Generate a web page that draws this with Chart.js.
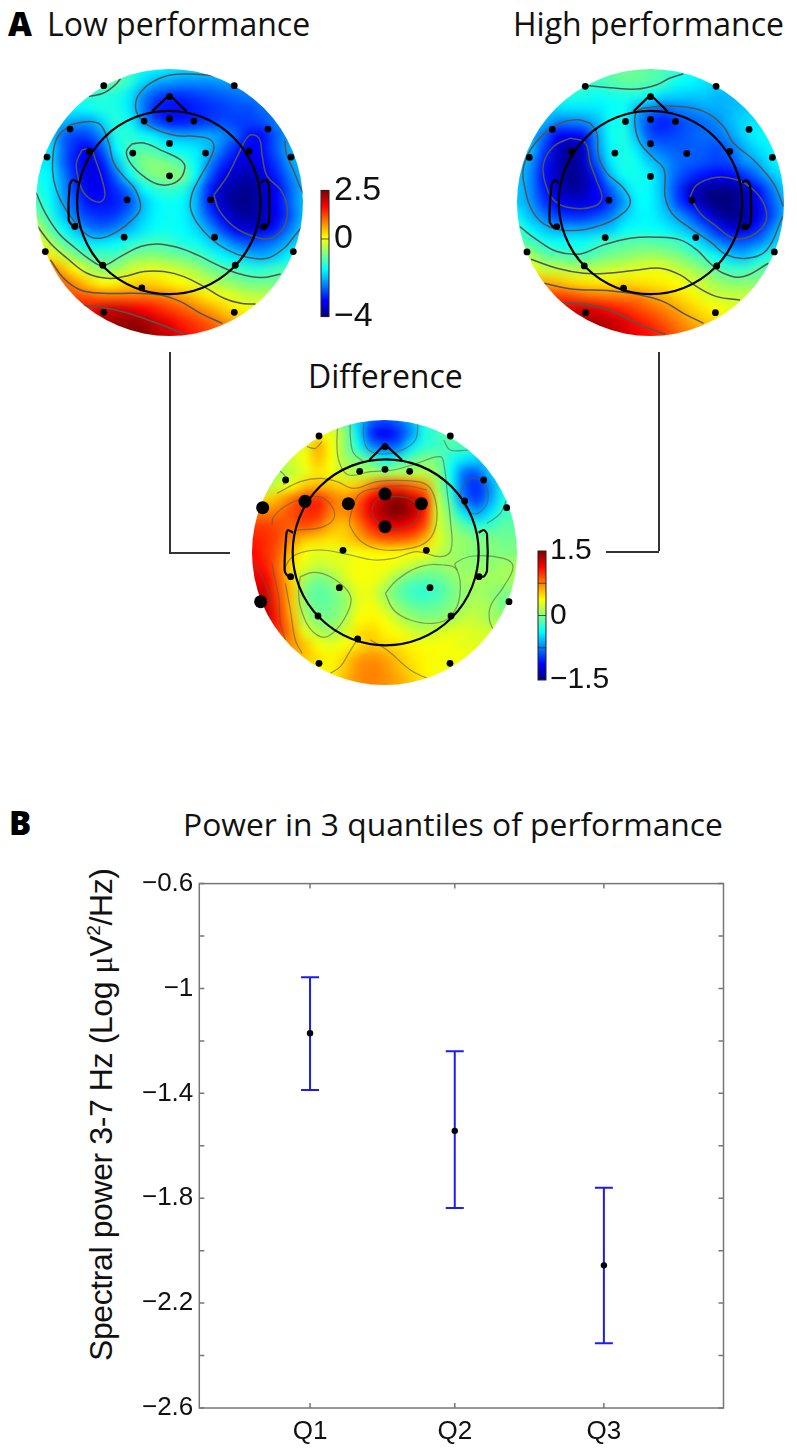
<!DOCTYPE html>
<html>
<head>
<meta charset="utf-8">
<script src="https://cdn.jsdelivr.net/npm/chart.js@4"></script>
<style>
  html, body { margin: 0; background: #fff; }
  #page { position: relative; width: 797px; height: 1450px; overflow: hidden; }
  canvas { position: absolute; }
  .t { position: absolute; white-space: nowrap; line-height: 1; color: #111; font-family: "Open Sans", sans-serif; font-size: 32px; }
  .letter { font-weight: 800; color: #000; font-size: 33px; }
  .rule { position: absolute; background: #333; }
  #ylabel { font-family: "Liberation Sans", sans-serif; font-size: 32px; letter-spacing: -0.4px; transform-origin: 0 0; transform: rotate(-90deg); left: 85px; top: 1361px; }
  #ylabel sup { font-size: 19px; line-height: 0; }
  #ylabel i { font-family: "Liberation Serif", serif; font-style: normal; }
</style>
</head>
<body>
<div id="page">
  <span class="t letter" style="left:8px;top:7px">A</span>
  <span class="t" style="left:47px;top:8px">Low performance</span>
  <span class="t" style="left:513px;top:8px">High performance</span>
  <span class="t" style="left:308px;top:360px">Difference</span>
  <span class="t letter" style="left:9px;top:806px">B</span>
  <span class="t" style="left:183px;top:808px;font-size:31.8px">Power in 3 quantiles of performance</span>
  <span class="t" id="ylabel">Spectral power 3-7 Hz (Log <i>μ</i>V<sup>2</sup>/Hz)</span>

  <div class="rule" style="left:169px;top:352px;width:1.5px;height:200px"></div>
  <div class="rule" style="left:169px;top:552px;width:61px;height:1.5px"></div>
  <div class="rule" style="left:658px;top:352px;width:1.5px;height:199px"></div>
  <div class="rule" style="left:606px;top:551px;width:53px;height:1.5px"></div>

  <canvas id="lowMap"></canvas>
  <canvas id="highMap"></canvas>
  <canvas id="diffMap"></canvas>
  <canvas id="lowBar"></canvas>
  <canvas id="diffBar"></canvas>
  <canvas id="quantiles"></canvas>
</div>

<script>
// panel B
const quantileLabels = ['Q1', 'Q2', 'Q3']
const quantileX = [1, 1.98, 2.99]
const quantileMean = [-1.171, -1.543, -2.056]
const quantileLow = [-1.387, -1.837, -2.353]
const quantileHigh = [-0.957, -1.239, -1.76]
const yTickVals = [-0.6, -1, -1.4, -1.8, -2.2, -2.6]
const yMinorVals = [-0.8, -1.2, -1.6, -2, -2.4]

// scalp maps: rows top to bottom, 21 x 21 nodes across the disc
const lowGrid = [
  [-1.2,-1.2,-1.2,-1.2,-1.2,-1.1,-1.1,-1.2,-1.5,-1.6,-1.7,-1.8,-1.8,-1.8,-1.8,-1.8,-1.8,-1.8,-1.8,-1.8,-1.8],
  [-1.2,-1.2,-1.2,-1.2,-1.2,-1.1,-1,-1.3,-1.8,-2.1,-2.2,-2.3,-2.3,-2.3,-2.2,-2.2,-2.2,-2.2,-2.2,-2.2,-2.2],
  [-1.4,-1.4,-1.4,-1.4,-1.3,-1.3,-1.4,-1.7,-2.3,-2.7,-2.9,-2.9,-2.8,-2.7,-2.6,-2.5,-2.4,-2.4,-2.4,-2.4,-2.4],
  [-1.6,-1.6,-1.6,-1.6,-1.5,-1.4,-1.4,-1.7,-2.4,-3,-3.1,-3.1,-3,-2.9,-2.8,-2.7,-2.7,-2.5,-2.5,-2.4,-2.4],
  [-1.8,-1.8,-2,-2.2,-2.2,-1.8,-1.3,-1.5,-2.2,-2.7,-3,-3,-2.9,-2.8,-2.7,-2.8,-2.8,-2.7,-2.4,-2.2,-2.2],
  [-1.8,-1.8,-2.5,-2.8,-2.7,-2.2,-1.4,-1.3,-1.5,-1.7,-2,-2.1,-2.1,-2.1,-2.3,-2.6,-3.1,-3.1,-2.6,-2.2,-2.2],
  [-1.7,-1.7,-2.5,-3,-3.2,-2.6,-1.6,-1.2,-1,-1.2,-1.5,-1.6,-1.7,-2,-2.5,-3,-3.3,-3.1,-2.6,-2.1,-2],
  [-1.7,-1.7,-2.5,-3.1,-3.4,-3,-2,-1.2,-0.8,-0.7,-0.85,-1.1,-1.6,-2.3,-2.9,-3.3,-3.5,-3.2,-2.8,-2.2,-2],
  [-1.5,-1.6,-2.3,-3,-3.4,-3.2,-2.5,-1.6,-1,-0.75,-0.7,-0.8,-1.6,-2.6,-3.3,-3.6,-3.7,-3.4,-3,-2.4,-2],
  [-1.3,-1.6,-2.2,-2.9,-3.3,-3.2,-2.9,-2.4,-1.6,-1.3,-1.2,-1.35,-2,-3,-3.6,-3.8,-3.9,-3.6,-3.2,-2.6,-2],
  [-1.1,-1.5,-2.1,-2.7,-3.1,-3.1,-3,-2.7,-2,-1.6,-1.5,-1.6,-2.1,-3,-3.6,-3.9,-3.9,-3.6,-3.2,-2.6,-2],
  [-0.8,-1.3,-1.9,-2.5,-2.8,-2.9,-2.8,-2.4,-1.9,-1.6,-1.5,-1.6,-2,-2.7,-3.3,-3.7,-3.8,-3.6,-3.3,-2.7,-2],
  [-0.3,-0.95,-1.5,-2,-2.4,-2.5,-2.3,-2,-1.7,-1.5,-1.5,-1.55,-1.8,-2.2,-2.8,-3.3,-3.5,-3.4,-3,-2.4,-1.9],
  [0,-0.4,-1,-1.4,-1.7,-1.7,-1.6,-1.4,-1.2,-1.15,-1.2,-1.4,-1.5,-1.8,-2.1,-2.5,-2.7,-2.6,-2.4,-2,-1.8],
  [0.4,0.2,-0.3,-0.75,-1.05,-1.1,-1.1,-0.8,-0.7,-0.7,-0.8,-0.9,-1.05,-1.3,-1.6,-1.8,-2,-2.1,-1.9,-1.6,-1.6],
  [0.9,0.9,0.5,0.05,-0.4,-0.7,-0.55,-0.3,-0.15,-0.1,-0.2,-0.35,-0.55,-0.8,-1,-1.15,-1.3,-1.3,-1.15,-1.1,-1.1],
  [1.1,1.1,1.1,0.7,0.3,0.05,0.1,0.3,0.35,0.3,0.15,0.05,-0.15,-0.35,-0.55,-0.7,-0.85,-0.85,-0.85,-0.85,-0.85],
  [1.2,1.2,1.2,1.2,1.1,0.95,0.95,0.95,0.95,0.9,0.8,0.6,0.35,0.15,-0.05,-0.2,-0.35,-0.35,-0.35,-0.35,-0.35],
  [1.6,1.6,1.6,1.6,1.6,1.95,2,1.9,1.7,1.5,1.3,1.1,0.9,0.65,0.4,0.15,0,0,0,0,0],
  [2,2,2,2,2,2.2,2.3,2.4,2.3,2,1.8,1.5,1.3,1.1,0.85,0.6,0.4,0.4,0.4,0.4,0.4],
  [2,2,2,2,2,2.2,2.3,2.4,2.4,2.2,2,1.7,1.5,1.3,1.1,0.85,0.6,0.6,0.6,0.6,0.6]
]
const highGrid = [
  [-1.2,-1.2,-1.2,-1.2,-1.2,-1.2,-1.1,-1,-0.9,-0.9,-1,-1.1,-1.3,-1.5,-1.6,-1.7,-1.7,-1.7,-1.7,-1.7,-1.7],
  [-1.2,-1.2,-1.2,-1.2,-1.2,-1.2,-1.2,-1.05,-0.95,-0.95,-1.05,-1.2,-1.5,-1.6,-1.7,-1.8,-1.8,-1.8,-1.8,-1.8,-1.8],
  [-1.4,-1.4,-1.4,-1.4,-1.4,-1.4,-1.5,-1.45,-1.4,-1.4,-1.5,-1.8,-1.85,-1.9,-1.9,-2,-2,-2,-2,-2,-2],
  [-1.8,-1.8,-1.8,-1.8,-1.75,-1.75,-1.7,-1.55,-1.5,-2,-2.4,-2.6,-2.4,-2.3,-2.15,-2.1,-2,-1.9,-1.9,-1.9,-1.9],
  [-1.9,-1.9,-2,-2.4,-2.4,-2.3,-2,-1.5,-1.45,-2.2,-2.8,-3,-2.8,-2.6,-2.5,-2.3,-2,-1.8,-1.7,-1.7,-1.7],
  [-2,-2,-2.5,-3.2,-3.2,-3.1,-2.2,-1.5,-1.4,-2,-2.7,-2.8,-2.7,-2.6,-2.5,-2.5,-2.2,-1.85,-1.6,-1.6,-1.6],
  [-1.9,-1.9,-2.8,-3.5,-3.9,-3.5,-2.3,-1.6,-1.4,-1.7,-2.3,-2.5,-2.6,-2.6,-2.6,-2.7,-2.5,-2.1,-1.8,-1.6,-1.6],
  [-1.9,-2.2,-3,-3.6,-3.9,-3.6,-2.6,-1.7,-1.4,-1.5,-1.9,-2.2,-2.5,-2.6,-2.7,-2.8,-2.7,-2.3,-2.1,-1.7,-1.6],
  [-1.9,-2.3,-3.1,-3.6,-3.9,-3.7,-3,-2,-1.5,-1.45,-1.6,-2.1,-2.6,-2.9,-3.1,-3.2,-3.2,-2.9,-2.5,-2,-1.7],
  [-1.9,-2.3,-3,-3.5,-3.8,-3.7,-3.2,-2.6,-1.9,-1.5,-1.6,-2.1,-2.8,-3.5,-3.8,-3.9,-3.9,-3.6,-3.1,-2.5,-1.9],
  [-1.9,-2.2,-2.8,-3.2,-3.4,-3.4,-3.2,-2.8,-2.2,-1.6,-1.6,-2,-2.7,-3.2,-3.8,-4,-4,-3.7,-3.3,-2.7,-2.1],
  [-1.6,-2,-2.4,-2.8,-2.9,-2.9,-2.7,-2.4,-1.9,-1.65,-1.6,-1.85,-2.2,-2.6,-3.1,-3.7,-3.9,-3.8,-3.4,-2.8,-2.1],
  [-1.1,-1.6,-1.9,-2.1,-2.1,-2.1,-2,-1.9,-1.6,-1.5,-1.5,-1.6,-1.8,-2.1,-2.5,-3,-3.4,-3.4,-3,-2.4,-1.8],
  [-0.9,-1.1,-1.4,-1.5,-1.5,-1.5,-1.3,-1.15,-1.05,-1,-1,-1.05,-1.15,-1.5,-1.9,-2.3,-2.6,-2.6,-2.4,-2,-1.8],
  [-0.5,-0.5,-0.85,-1,-1.1,-1.15,-0.95,-0.8,-0.7,-0.6,-0.55,-0.6,-0.75,-0.95,-1.25,-1.6,-1.9,-2,-1.7,-1.3,-1.3],
  [0.1,0.1,-0.3,-0.3,-0.4,-0.4,-0.35,-0.25,-0.2,-0.12,-0.05,-0.1,-0.3,-0.5,-0.7,-1,-1.2,-1.2,-1,-1,-1],
  [0.6,0.6,0.6,0.5,0.35,0.25,0.2,0.2,0.3,0.25,0.2,0.15,0.05,-0.15,-0.35,-0.55,-0.7,-0.7,-0.7,-0.7,-0.7],
  [1.3,1.3,1.3,1.3,1.2,1.05,0.95,0.9,0.85,0.85,0.65,0.5,0.3,0.15,-0.1,-0.25,-0.3,-0.3,-0.3,-0.3,-0.3],
  [1.9,1.9,1.9,1.9,1.9,2,1.85,1.6,1.45,1.25,1.05,0.85,0.65,0.4,0.2,0.05,-0.1,-0.1,-0.1,-0.1,-0.1],
  [2.2,2.2,2.2,2.2,2.2,2.2,2.2,2.1,1.9,1.6,1.4,1.15,0.9,0.65,0.45,0.3,0.2,0.2,0.2,0.2,0.2],
  [2.2,2.2,2.2,2.2,2.2,2.2,2.2,2.1,1.9,1.8,1.6,1.4,1.1,0.9,0.7,0.5,0.4,0.4,0.4,0.4,0.4]
]
const diffGrid = [
  [0.3,0.3,0.3,0.3,0.3,0.3,0.1,-0.1,-0.5,-0.8,-0.9,-0.8,-0.6,-0.3,-0.2,-0.1,-0.1,-0.1,-0.1,-0.1,-0.1],
  [0.3,0.3,0.3,0.3,0.3,0.35,0.3,0.05,-0.45,-1,-1.15,-1,-0.7,-0.3,-0.2,-0.1,-0.1,-0.1,-0.1,-0.1,-0.1],
  [0.3,0.3,0.3,0.3,0.3,0.6,0.35,0.05,-0.3,-0.7,-0.85,-0.8,-0.45,-0.25,-0.2,-0.15,-0.2,-0.2,-0.2,-0.2,-0.2],
  [0.2,0.2,0.2,0.25,0.35,0.55,0.35,0.1,0,-0.15,-0.35,-0.25,-0.1,0,-0.05,-0.3,-0.45,-0.5,-0.5,-0.5,-0.5],
  [0.1,0.1,0.1,0.2,0.3,0.45,0.35,0.2,0.15,0.15,0.1,0.15,0.15,0.15,0.05,-0.35,-0.8,-0.85,-0.5,-0.5,-0.5],
  [0.1,0.1,0.25,0.35,0.55,0.6,0.55,0.5,0.55,0.75,0.95,0.95,0.85,0.7,0.1,-0.3,-0.85,-1,-0.7,-0.3,-0.3],
  [0.5,0.5,0.6,0.8,0.95,1,0.8,0.7,0.85,1.15,1.35,1.45,1.3,1.05,0.2,-0.2,-0.75,-0.95,-0.65,-0.3,-0.3],
  [0.75,0.75,0.8,0.9,1,1,0.75,0.7,0.9,1.2,1.4,1.5,1.35,1.05,0.25,-0.05,-0.45,-0.65,-0.45,-0.2,-0.2],
  [0.95,0.95,0.9,0.85,0.9,0.8,0.6,0.55,0.75,1,1.2,1.2,1.1,0.9,0.25,0.05,-0.1,-0.25,-0.2,-0.1,-0.1],
  [1.05,1,0.9,0.7,0.55,0.5,0.45,0.5,0.6,0.75,0.85,0.85,0.8,0.6,0.3,0.1,0.05,0,0,-0.05,-0.05],
  [1.1,1,0.85,0.55,0.35,0.3,0.3,0.3,0.35,0.4,0.4,0.4,0.35,0.35,0.2,0.1,0.05,0,0,0,0],
  [1.1,1.05,0.8,0.45,0.3,0.2,0.25,0.3,0.35,0.35,0.35,0.3,0.2,0.1,0.05,0.1,0.05,0.05,0.05,0.1,0.1],
  [1.2,1.15,0.85,0.5,0.1,-0.02,0.05,0.25,0.35,0.35,0.25,0.05,-0.08,-0.12,-0.08,0,0.1,0.1,0.1,0.1,0.1],
  [1.3,1.25,0.9,0.55,0,-0.12,-0.05,0.08,0.3,0.3,0.1,-0.08,-0.2,-0.25,-0.18,-0.05,0.05,0.1,0.05,0,0],
  [1.3,1.3,0.95,0.55,0.05,-0.08,-0.05,0.05,0.3,0.35,0.2,0.03,-0.08,-0.12,-0.08,0,0.1,0.15,0.1,-0.05,-0.05],
  [1.3,1.3,1,0.6,0.15,0,0,0.12,0.35,0.4,0.35,0.2,0.08,0.03,0.03,0.1,0.2,0.2,0.1,0.1,0.1],
  [1,1,1,0.7,0.3,0.15,0.1,0.25,0.45,0.5,0.4,0.35,0.25,0.2,0.25,0.3,0.3,0.25,0.25,0.25,0.25],
  [0.7,0.7,0.7,0.7,0.55,0.35,0.3,0.35,0.45,0.55,0.5,0.45,0.4,0.35,0.35,0.35,0.3,0.3,0.3,0.3,0.3],
  [0.55,0.55,0.55,0.55,0.55,0.45,0.4,0.5,0.65,0.7,0.65,0.55,0.45,0.4,0.35,0.35,0.35,0.35,0.35,0.35,0.35],
  [0.4,0.4,0.4,0.4,0.4,0.4,0.4,0.55,0.7,0.75,0.7,0.6,0.5,0.4,0.35,0.35,0.35,0.35,0.35,0.35,0.35],
  [0.4,0.4,0.4,0.4,0.4,0.4,0.45,0.6,0.7,0.75,0.7,0.65,0.55,0.45,0.4,0.35,0.35,0.35,0.35,0.35,0.35]
]

// electrode sites, digitised per map
const lowSites = [[310,258],[701,258],[507,291],[507,357],[431,364],[580,364],[209,388],[802,388],[507,431],[140,472],[871,472],[267,455],[397,460],[615,460],[745,455],[507,528],[380,600],[630,600],[223,680],[790,680],[371,712],[642,712],[135,755],[878,755],[307,796],[704,796],[424,864],[310,937],[701,937]]
const highSites = [[285,260],[678,260],[481,291],[481,359],[406,365],[556,365],[186,389],[777,389],[481,432],[117,473],[847,473],[244,455],[374,460],[590,461],[719,455],[481,530],[356,601],[606,601],[199,680],[765,680],[345,713],[617,713],[110,756],[853,756],[282,798],[680,798],[400,865],[286,938],[676,938]]
const diffSites = [[296,78],[690,78],[494,110],[494,178],[418,184],[568,184],[196,210],[790,210],[859,293],[733,273],[368,421],[618,421],[211,500],[776,500],[357,533],[629,533],[866,575],[293,618],[692,618],[412,687],[296,760],[689,760]]
const diffBigSites = [[494,252],[127,293],[254,274],[384,281],[603,281],[494,350],[121,575]]

// contour lines
const lowContours = [
  [[650,230],[620,226],[560,223],[500,228],[450,250],[415,285],[405,320],[415,350],[440,375],[480,395],[530,408],[590,410],[630,420],[640,445],[625,485],[600,530],[575,580],[570,625],[590,670],[630,715],[680,750],[740,772],[800,775],[850,745],[880,710],[905,680]],
  [[852,422],[858,465],[878,510],[903,572],[915,590]],
  [[640,585],[680,530],[715,460],[745,408],[775,415],[785,470],[800,530],[840,570],[860,625],[850,680],[810,715],[760,710],[700,680],[655,630],[640,585]],
  [[210,375],[170,415],[157,480],[160,540],[180,600],[215,655],[260,705],[300,715],[350,695],[395,660],[420,625],[405,570],[370,530],[340,490],[325,430],[300,375],[265,365],[210,375]],
  [[245,450],[228,490],[235,540],[255,585],[295,607],[313,590],[305,540],[285,480],[272,450],[245,450]],
  [[395,432],[378,455],[390,490],[430,530],[480,555],[530,545],[553,505],[540,480],[490,455],[430,430],[395,432]],
  [[265,290],[310,280],[345,255],[360,237]],
  [[107,578],[135,640],[175,700],[225,745],[270,780],[307,797],[360,770],[420,740],[470,732],[530,742],[590,765],[650,795],[710,820],[780,833],[840,822]],
  [[112,680],[150,730],[200,775],[260,820],[320,835],[370,830],[430,815],[490,815],[550,830],[610,860],[670,895],[720,910],[765,912]],
  [[150,780],[190,835],[240,870],[310,880],[400,880],[480,885],[540,905],[600,940],[665,970]],
  [[240,915],[320,925],[400,945],[470,970],[555,1003]]
]
const highContours = [
  [[295,258],[360,264],[440,268],[500,255],[540,235],[580,222]],
  [[300,370],[260,360],[200,375],[135,430],[100,500],[105,570],[130,640],[175,680],[250,692],[320,680],[385,650],[420,610],[400,565],[350,520],[325,470],[320,400],[300,370]],
  [[240,415],[190,440],[160,490],[165,550],[195,605],[250,625],[310,620],[335,595],[320,545],[300,490],[285,430],[240,415]],
  [[880,620],[850,550],[790,480],[730,430],[700,380],[640,335],[560,320],[480,323],[440,335],[435,380],[450,430],[490,475],[522,510],[525,590],[545,640],[600,685],[660,725],[710,765],[770,775],[830,750],[878,650]],
  [[600,590],[620,555],[680,532],[740,540],[790,570],[825,620],[825,670],[780,710],[730,715],[680,680],[630,640],[600,590]],
  [[88,680],[140,720],[200,755],[270,762],[340,735],[420,715],[500,712],[570,720],[620,750],[660,790],[700,820],[760,830],[835,790]],
  [[122,778],[200,805],[280,820],[350,820],[430,812],[510,805],[570,825],[620,860],[680,890],[750,900]],
  [[160,850],[250,868],[350,872],[450,885],[520,905],[580,940],[640,970]],
  [[220,908],[300,915],[370,935],[440,970],[525,1003]]
]
const diffContours = [
  [[430,40],[430,85],[445,120],[490,132],[545,120],[585,90],[593,40]],
  [[390,35],[390,80],[400,130],[430,155]],
  [[352,45],[350,110],[358,160],[385,195],[450,185],[520,180],[590,160],[660,140],[672,170],[680,240],[690,330],[692,420],[660,440],[590,425],[520,445],[460,450],[390,435],[300,420],[230,432],[200,460],[195,490],[212,500]],
  [[155,345],[160,320],[200,285],[250,265]],
  [[170,250],[240,215],[300,205],[350,215],[400,235],[470,215],[560,212],[620,225],[645,270],[648,340],[625,390],[570,415],[490,420],[430,400],[390,350],[390,320],[415,255],[470,235],[560,228],[620,240]],
  [[455,295],[470,270],[520,260],[575,270],[595,310],[570,345],[510,355],[465,330],[455,295]],
  [[260,258],[310,265],[343,315],[310,350],[230,360]],
  [[240,500],[280,487],[330,500],[380,540],[392,575],[370,630],[330,675],[300,680],[265,650],[240,590],[235,540],[240,500]],
  [[495,550],[530,510],[600,470],[670,465],[710,480],[718,560],[690,620],[640,640],[570,630],[520,600],[495,550]],
  [[710,480],[705,460],[760,438],[850,445],[878,470],[850,530],[810,590],[810,640],[835,680]],
  [[720,250],[735,215],[770,205],[795,225],[803,270],[780,305],[755,310],[730,285],[720,250]],
  [[670,90],[690,120],[745,120]],
  [[800,340],[840,310],[858,270]],
  [[100,460],[130,510],[155,580]],
  [[155,460],[160,490],[175,560],[180,640],[195,690]],
  [[195,520],[210,600],[225,690],[245,730]],
  [[410,690],[385,730],[360,770],[330,790]],
  [[450,690],[500,720],[570,780],[620,805]],
  [[260,110],[285,115],[305,95]],
  [[175,180],[195,200],[190,225]]
]

// head outline
const lowHead = { centre: [505,608], nose: [[455,335],[507,285],[558,335]],
  earL: [[232,548],[218,540],[208,555],[205,660],[215,675],[232,672]],
  earR: [[780,548],[795,540],[805,555],[805,665],[795,683],[780,680]] }
const highHead = { centre: [481,608], nose: [[430,335],[481,285],[532,335]],
  earL: [[205,548],[192,542],[184,555],[178,665],[190,682],[205,680]],
  earR: [[757,548],[770,542],[780,555],[782,665],[770,687],[755,680]] }
const diffHead = { centre: [496,427], nose: [[447,150],[494,103],[545,150]],
  earL: [[218,368],[203,360],[198,372],[193,482],[205,500],[218,497]],
  earR: [[775,368],[790,360],[800,372],[800,482],[790,500],[775,497]] }

const lowBarTicks = [-4, 0, 2.5]
const diffBarTicks = [-1.5, 0, 1.5]
const diffBarNotches = [-0.75, 0, 0.75]

const SANS = '"Liberation Sans", Arial, sans-serif'
const BOX = '#777'

function jet(t) {
  const c = (x) => Math.round(255 * Math.max(0, Math.min(1, x)))
  return [c(1.5 - Math.abs(4 * t - 3)), c(1.5 - Math.abs(4 * t - 2)), c(1.5 - Math.abs(4 * t - 1))]
}

const pts = (arr) => arr.map(([x, y]) => ({ x, y }))
const minusSign = (v) => String(v).replace('-', '\u2212')

function place(id, left, top, w, h) {
  const c = document.getElementById(id)
  c.width = w
  c.height = h
  c.style.left = left + 'px'
  c.style.top = top + 'px'
  return c
}

function discClip(ctx, a) {
  ctx.beginPath()
  ctx.arc((a.left + a.right) / 2, (a.top + a.bottom) / 2, (a.right - a.left) / 2, 0, Math.PI * 2)
  ctx.clip()
}

// paints the grid under the datasets, clipped to the disc
const heatPlugin = {
  id: 'heat',
  beforeDatasetsDraw(chart, args, o) {
    const n = o.grid.length
    const off = document.createElement('canvas')
    off.width = n
    off.height = n
    const octx = off.getContext('2d')
    const img = octx.createImageData(n, n)
    o.grid.forEach((row, i) => row.forEach((v, j) => {
      const [r, g, b] = jet((v - o.min) / (o.max - o.min))
      img.data.set([r, g, b, 255], (i * n + j) * 4)
    }))
    octx.putImageData(img, 0, 0)
    const { x, y } = chart.scales
    const half = (x.max - x.min) / (n - 1) / 2
    const hy = (y.max - y.min) / (n - 1) / 2
    const x0 = x.getPixelForValue(x.min - half)
    const x1 = x.getPixelForValue(x.max + half)
    const y0 = y.getPixelForValue(y.min - hy)
    const y1 = y.getPixelForValue(y.max + hy)
    const ctx = chart.ctx
    ctx.save()
    discClip(ctx, chart.chartArea)
    ctx.imageSmoothingEnabled = true
    ctx.imageSmoothingQuality = 'high'
    ctx.drawImage(off, x0, y0, x1 - x0, y1 - y0)
    ctx.restore()
  },
  beforeDatasetDraw(chart, args) {
    if (chart.data.datasets[args.index].contour) {
      chart.ctx.save()
      discClip(chart.ctx, chart.chartArea)
    }
  },
  afterDatasetDraw(chart, args) {
    if (chart.data.datasets[args.index].contour) chart.ctx.restore()
  }
}

function makeMap(id, left, top, size, xr, yr, grid, range, sites, bigSites, contours, head, headR, lineColor, lineWidth) {
  const pad = 7
  place(id, left - pad, top - pad, size + pad * 2, size + pad * 2)
  const outline = (arr, tension) => ({ data: pts(arr), showLine: true, pointRadius: 0, borderColor: '#000', borderWidth: 2.2, tension, clip: false })
  const datasets = [
    { data: pts(sites), pointRadius: 3.4, backgroundColor: '#000', borderWidth: 0, clip: false },
    { data: pts(bigSites), pointRadius: 6.5, backgroundColor: '#000', borderWidth: 0, clip: false },
    { data: pts([head.centre]), pointRadius: headR, pointBorderWidth: 2.2, borderColor: '#000', backgroundColor: 'transparent', clip: false },
    outline(head.nose, 0),
    outline(head.earL, 0.25),
    outline(head.earR, 0.25)
  ]
  contours.forEach((c) => datasets.push({ data: pts(c), showLine: true, pointRadius: 0, borderColor: lineColor, borderWidth: lineWidth, tension: 0.4, contour: true, clip: false }))
  new Chart(document.getElementById(id), {
    type: 'scatter',
    data: { datasets },
    plugins: [heatPlugin],
    options: {
      responsive: false,
      animation: false,
      events: [],
      layout: { padding: pad, autoPadding: false },
      plugins: { legend: { display: false }, tooltip: { enabled: false }, heat: { grid, min: range[0], max: range[1] } },
      scales: {
        x: { type: 'linear', display: false, min: xr[0], max: xr[1] },
        y: { type: 'linear', display: false, reverse: true, min: yr[0], max: yr[1] }
      }
    }
  })
}

// strip is painted through the y scale of a small chart
const stripPlugin = {
  id: 'strip',
  beforeDatasetsDraw(chart, args, o) {
    const a = chart.chartArea
    const y = chart.scales.y
    const ctx = chart.ctx
    for (let p = Math.floor(a.top); p < a.bottom; p++) {
      const v = y.getValueForPixel(p + 0.5)
      const [r, g, b] = jet((v - y.min) / (y.max - y.min))
      ctx.fillStyle = `rgb(${r},${g},${b})`
      ctx.fillRect(a.left, p, a.right - a.left, 1)
    }
    ctx.strokeStyle = 'rgba(40,40,20,0.75)'
    ctx.lineWidth = 1
    o.notches.forEach((v) => {
      const p = y.getPixelForValue(v)
      ctx.beginPath()
      ctx.moveTo(a.left, p)
      ctx.lineTo(a.right, p)
      ctx.stroke()
    })
    ctx.strokeStyle = '#222'
    ctx.strokeRect(a.left, a.top, a.right - a.left, a.bottom - a.top)
  }
}

function makeBar(id, left, top, w, h, ticks, notches, fontSize, labelGap) {
  const padY = 24
  const labelW = 80
  place(id, left - 1, top - padY, w + labelW + 2, h + padY * 2)
  new Chart(document.getElementById(id), {
    type: 'scatter',
    data: { datasets: [{ data: [] }] },
    plugins: [stripPlugin],
    options: {
      responsive: false,
      animation: false,
      events: [],
      layout: { padding: { left: 1, right: 1, top: padY, bottom: padY }, autoPadding: false },
      plugins: { legend: { display: false }, tooltip: { enabled: false }, strip: { notches } },
      scales: {
        x: { display: false },
        y: {
          position: 'right',
          min: ticks[0],
          max: ticks[ticks.length - 1],
          grid: { display: false, drawTicks: false },
          border: { display: false },
          afterBuildTicks(s) { s.ticks = ticks.map((value) => ({ value })) },
          afterFit(s) { s.width = labelW },
          ticks: { color: '#111', font: { family: SANS, size: fontSize }, padding: labelGap, callback: minusSign }
        }
      }
    }
  })
}

makeMap('lowMap', 36, 69, 267, [107, 907], [208, 1008], lowGrid, [-4, 2.5], lowSites, [], lowContours, lowHead, 91.7, '#555', 1.5)
makeMap('highMap', 517, 69, 267, [80, 882], [208, 1008], highGrid, [-4, 2.5], highSites, [], highContours, highHead, 91.7, '#555', 1.5)
makeMap('diffMap', 252, 420, 265, [95, 890], [30, 825], diffGrid, [-1.5, 1.5], diffSites, diffBigSites, diffContours, diffHead, 93, 'rgba(90,90,70,0.6)', 1.2)
makeBar('lowBar', 321, 189, 8, 129, lowBarTicks, [0], 34, 5)
makeBar('diffBar', 538, 551, 8, 129, diffBarTicks, diffBarNotches, 30, 4)

// panel B
const innerTicks = {
  id: 'innerTicks',
  afterDraw(chart) {
    const { ctx, chartArea: a, scales: { x, y } } = chart
    const len = 5
    ctx.save()
    ctx.strokeStyle = BOX
    ctx.lineWidth = 1.5
    ctx.strokeRect(a.left, a.top, a.right - a.left, a.bottom - a.top)
    ctx.beginPath()
    yTickVals.concat(yMinorVals).forEach((v) => {
      const p = y.getPixelForValue(v)
      ctx.moveTo(a.left, p); ctx.lineTo(a.left + len, p)
      ctx.moveTo(a.right, p); ctx.lineTo(a.right - len, p)
    })
    quantileX.forEach((v) => {
      const p = x.getPixelForValue(v)
      ctx.moveTo(p, a.top); ctx.lineTo(p, a.top + len)
      ctx.moveTo(p, a.bottom); ctx.lineTo(p, a.bottom - len)
    })
    ctx.stroke()
    ctx.restore()
  }
}

const BLUE = '#1c1cf0'
const whiskers = quantileX.map((x, i) => ({
  data: [{ x, y: quantileLow[i] }, { x, y: quantileHigh[i] }],
  showLine: true, pointRadius: 0, borderColor: BLUE, borderWidth: 2
}))

// top label overhang keeps the plot 20px below the canvas top
place('quantiles', 0, 862, 797, 588)
new Chart(document.getElementById('quantiles'), {
  type: 'scatter',
  data: {
    datasets: [
      { data: quantileX.map((x, i) => ({ x, y: quantileMean[i] })), pointRadius: 3.2, backgroundColor: '#000', borderWidth: 0 },
      { data: quantileX.map((x, i) => ({ x, y: quantileLow[i] })), pointStyle: 'line', pointRadius: 9, borderColor: BLUE, pointBorderWidth: 2 },
      { data: quantileX.map((x, i) => ({ x, y: quantileHigh[i] })), pointStyle: 'line', pointRadius: 9, borderColor: BLUE, pointBorderWidth: 2 },
      ...whiskers
    ]
  },
  plugins: [innerTicks],
  options: {
    responsive: false,
    animation: false,
    events: [],
    layout: { padding: { top: 12, right: 73.5, left: 0, bottom: 0 }, autoPadding: false },
    plugins: { legend: { display: false }, tooltip: { enabled: false } },
    scales: {
      x: {
        type: 'linear',
        min: 0.25,
        max: 3.8,
        grid: { display: false, drawTicks: false },
        border: { display: false },
        afterBuildTicks(s) { s.ticks = quantileX.map((value) => ({ value })) },
        afterFit(s) { s.height = 42 },
        ticks: {
          color: '#111',
          font: { family: SANS, size: 26 },
          padding: 8,
          maxRotation: 0,
          callback: (v) => quantileLabels[quantileX.indexOf(v)]
        }
      },
      y: {
        type: 'linear',
        min: -2.6,
        max: -0.6,
        grid: { display: false, drawTicks: false },
        border: { display: false },
        afterBuildTicks(s) { s.ticks = yTickVals.map((value) => ({ value })) },
        afterFit(s) { s.width = 199.3 },
        ticks: { color: '#111', font: { family: SANS, size: 26 }, padding: 6, callback: minusSign }
      }
    }
  }
})
</script>
</body>
</html>
